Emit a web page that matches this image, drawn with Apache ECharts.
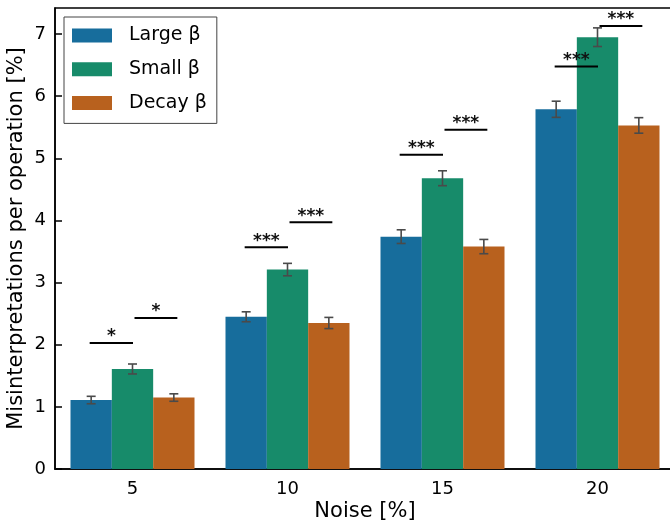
<!DOCTYPE html>
<html>
<head>
<meta charset="utf-8">
<script src="https://cdn.jsdelivr.net/npm/echarts@6/dist/echarts.min.js"></script>
<style>
  html, body { margin: 0; padding: 0; background: #ffffff; }
  #chart { width: 670px; height: 525px; }
</style>
</head>
<body>
<div id="chart"></div>
<script>
// Noise levels on the x axis
const noiseLevels = ['5', '10', '15', '20'];
const seriesNames = ['Large β', 'Small β', 'Decay β'];
const seriesColors = ['#176d9c', '#178b6a', '#b8611e'];

// Mean misinterpretations per operation [%]
const largeMean = [1.11, 2.45, 3.74, 5.79];
const smallMean = [1.61, 3.21, 4.68, 6.95];
const decayMean = [1.15, 2.35, 3.58, 5.53];

// Half-width of the error bars
const largeErr = [0.06, 0.08, 0.11, 0.13];
const smallErr = [0.08, 0.10, 0.12, 0.15];
const decayErr = [0.06, 0.09, 0.115, 0.125];

// Significance brackets: Large vs Small, Small vs Decay
const sigLargeSmallY = [2.03, 3.57, 5.06, 6.48];
const sigLargeSmallMark = ['*', '***', '***', '***'];
const sigSmallDecayY = [2.43, 3.97, 5.46, 7.13];
const sigSmallDecayMark = ['*', '***', '***', '***'];

const yMin = 0;
const yMax = 7.42;
const yStep = 1;

const FONT = 'DejaVu Sans';
const means = [largeMean, smallMean, decayMean];
const errs = [largeErr, smallErr, decayErr];

// error bar records: [category index, mean, half-width, series index]
const errData = [];
means.forEach((arr, k) => arr.forEach((m, i) => errData.push([i, m, errs[k][i], k])));

// bracket records: [category index, y, pair index]
const sigData = [];
sigLargeSmallY.forEach((y, i) => sigData.push([i, y, 0]));
sigSmallDecayY.forEach((y, i) => sigData.push([i, y, 1]));
const sigMarks = [sigLargeSmallMark, sigSmallDecayMark];

function barWidthPx(api) {
  return api.size([1, 0])[0] * 0.8 / 3;
}

function renderErrorBar(params, api) {
  const i = api.value(0), m = api.value(1), e = api.value(2), k = api.value(3);
  const bw = barWidthPx(api);
  const x = api.coord([i, m])[0] + (k - 1) * bw;
  const top = api.coord([i, m + e])[1];
  const bot = api.coord([i, m - e])[1];
  const cap = 4.5;
  const st = { stroke: '#4a4a4a', lineWidth: 1.6 };
  return {
    type: 'group',
    children: [
      { type: 'line', shape: { x1: x, y1: top, x2: x, y2: bot }, style: st },
      { type: 'line', shape: { x1: x - cap, y1: top, x2: x + cap, y2: top }, style: st },
      { type: 'line', shape: { x1: x - cap, y1: bot, x2: x + cap, y2: bot }, style: st }
    ]
  };
}

function renderBracket(params, api) {
  const i = api.value(0), y = api.value(1), pair = api.value(2);
  const bw = barWidthPx(api);
  const cx = api.coord([i, y])[0];
  const py = api.coord([i, y])[1];
  let x1, x2;
  if (pair === 0) { x1 = cx - bw - 1.5; x2 = cx + 0.5; }
  else { x1 = cx + 2; x2 = cx + bw + 3.5; }
  const mark = sigMarks[pair][i];
  return {
    type: 'group',
    children: [
      { type: 'line', shape: { x1: x1, y1: py, x2: x2, y2: py }, style: { stroke: '#000', lineWidth: 2 } },
      { type: 'text', x: (x1 + x2) / 2, y: py - 6,
        style: { text: mark, fill: '#111', font: 'bold 17px "' + FONT + '"', align: 'center', verticalAlign: 'middle' } }
    ]
  };
}

const chart = echarts.init(document.getElementById('chart'), null, { renderer: 'canvas' });

const barSeries = seriesNames.map((name, k) => ({
  name: name,
  type: 'bar',
  data: means[k],
  barGap: '0%',
  barCategoryGap: '20%',
  itemStyle: { color: seriesColors[k] },
  emphasis: { disabled: true },
  z: 2
}));

chart.setOption({
  animation: false,
  backgroundColor: '#ffffff',
  textStyle: { fontFamily: FONT },
  grid: {
    left: 55, top: 8, width: 620, height: 461,
    containLabel: false,
    outerBoundsMode: 'none',
    show: true, borderColor: '#000', borderWidth: 1.5, backgroundColor: 'transparent'
  },
  legend: {
    data: seriesNames,
    orient: 'vertical',
    left: 64, top: 17,
    itemWidth: 40, itemHeight: 14, itemGap: 14.7,
    icon: 'rect',
    padding: [9, 10, 11, 8],
    borderColor: '#444', borderWidth: 1, borderRadius: 0,
    backgroundColor: '#ffffff',
    textStyle: { fontFamily: FONT, fontSize: 19, color: '#000', lineHeight: 14, padding: [0, 0, 0, 12] }
  },
  xAxis: {
    type: 'category',
    data: noiseLevels,
    name: 'Noise [%]',
    nameLocation: 'middle',
    nameGap: 32,
    nameMoveOverlap: false,
    nameTextStyle: { fontFamily: FONT, fontSize: 21, color: '#000' },
    axisLine: { lineStyle: { color: '#000', width: 1.5 } },
    axisTick: { inside: true, alignWithLabel: true, length: 7, lineStyle: { color: '#000', width: 1.5 } },
    axisLabel: { fontFamily: FONT, fontSize: 18, color: '#000', margin: 11 },
    splitLine: { show: false }
  },
  yAxis: {
    type: 'value',
    min: yMin, max: yMax, interval: yStep,
    name: 'Misinterpretations per operation [%]',
    nameLocation: 'middle',
    nameGap: 28,
    nameMoveOverlap: false,
    nameTextStyle: { fontFamily: FONT, fontSize: 21, color: '#000' },
    axisLine: { show: true, lineStyle: { color: '#000', width: 1.5 } },
    axisTick: { show: true, inside: true, length: 7, lineStyle: { color: '#000', width: 1.5 } },
    axisLabel: {
      fontFamily: FONT, fontSize: 18, color: '#000', margin: 9,
      showMaxLabel: false,
      formatter: v => (Math.abs(v - Math.round(v)) < 1e-9 ? String(Math.round(v)) : '')
    },
    splitLine: { show: false }
  },
  series: barSeries.concat([
    {
      type: 'custom',
      name: 'errors',
      renderItem: renderErrorBar,
      data: errData,
      encode: { x: 0, y: 1 },
      z: 5,
      silent: true
    },
    {
      type: 'custom',
      name: 'significance',
      renderItem: renderBracket,
      data: sigData,
      encode: { x: 0, y: 1 },
      z: 6,
      silent: true
    }
  ])
});
</script>
</body>
</html>
